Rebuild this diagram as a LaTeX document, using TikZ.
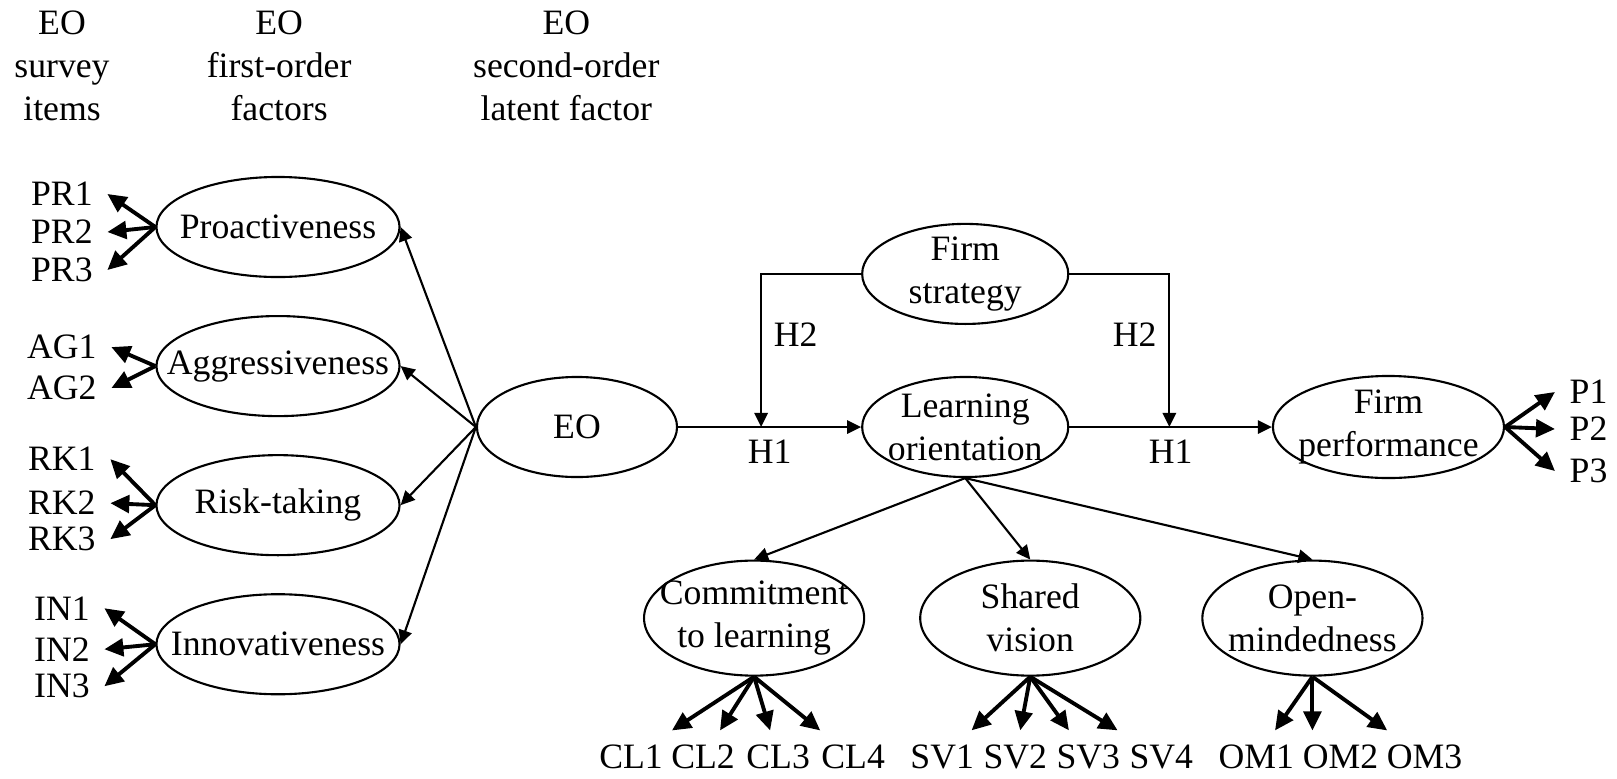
\documentclass[tikz,border=0pt]{standalone}
\usepackage{fontspec}
\setmainfont{Liberation Serif}
\usetikzlibrary{shapes.geometric, arrows.meta}
\tikzstyle{header} = [align=center, inner sep=0pt]
\tikzstyle{latent} = [ellipse, minimum width=2.43cm, minimum height=1cm, inner sep=-2cm, align=center, draw=black, semithick]
\tikzstyle{dimension} = [latent, minimum width=2.2cm, minimum height=1.15cm]
\tikzstyle{item} = [inner sep=4pt]
\tikzstyle{arrow} = [semithick, -{Triangle[length=4pt, width=3.8pt]}]
\tikzstyle{load} = [line width=1.1pt, -{Triangle[length=5.4pt, width=5pt]}]

\begin{document}
\begin{tikzpicture}[x=0.01cm, y=-0.01cm, node distance=1.39cm, font=\fontsize{10.15}{12.2}\selectfont]
\useasboundingbox (0,0) rectangle (1617,778);
% column headers
\node (hitems) [header] at (62,66) {EO\\survey\\items};
\node (hfirst) [header, right of=hitems, xshift=0.78cm] {EO\\first-order\\factors};
\node (hsecond) [header, right of=hfirst, xshift=1.48cm] {EO\\second-order\\latent factor};
% first-order factors
\node (pro) [latent] at (278,227) {Proactiveness};
\node (agg) [latent, below of=pro] {Aggressiveness};
\node (risk) [latent, below of=agg] {Risk-taking};
\node (inn) [latent, below of=risk] {Innovativeness};
% survey items
\node (pr1) [item, left of=pro, xshift=-0.77cm, yshift=0.33cm] {PR1};
\node (pr2) [item, left of=pro, xshift=-0.77cm, yshift=-0.05cm] {PR2};
\node (pr3) [item, left of=pro, xshift=-0.77cm, yshift=-0.43cm] {PR3};
\node (ag1) [item, left of=agg, xshift=-0.77cm, yshift=0.19cm] {AG1};
\node (ag2) [item, left of=agg, xshift=-0.77cm, yshift=-0.22cm] {AG2};
\node (rk1) [item, left of=risk, xshift=-0.77cm, yshift=0.46cm] {RK1};
\node (rk2) [item, left of=risk, xshift=-0.77cm, yshift=0.02cm] {RK2};
\node (rk3) [item, left of=risk, xshift=-0.77cm, yshift=-0.34cm] {RK3};
\node (in1) [item, left of=inn, xshift=-0.77cm, yshift=0.36cm] {IN1};
\node (in2) [item, left of=inn, xshift=-0.77cm, yshift=-0.05cm] {IN2};
\node (in3) [item, left of=inn, xshift=-0.77cm, yshift=-0.42cm] {IN3};
% second-order factor and model
\node (eo) [latent, minimum width=2cm] at (577,427) {EO};
\node (lo) [latent, minimum width=2.06cm, right of=eo, xshift=2.49cm] {Learning\\orientation};
\node (fs) [latent, minimum width=2.06cm, above of=lo, yshift=0.14cm] {Firm\\strategy};
\node (fp) [latent, minimum width=2.31cm, minimum height=1.02cm, right of=lo, xshift=2.84cm] {Firm\\performance};
\coordinate [right of=eo, xshift=0.45cm] (m1);
\coordinate [left of=fp, xshift=-0.80cm] (m2);
% performance items
\node (p1) [item, right of=fp, xshift=0.61cm, yshift=0.35cm] {P1};
\node (p2) [item, right of=fp, xshift=0.61cm, yshift=-0.02cm] {P2};
\node (p3) [item, right of=fp, xshift=0.61cm, yshift=-0.44cm] {P3};
% learning orientation dimensions
\node (cl) [dimension, below of=lo, xshift=-2.11cm, yshift=-0.52cm] {Commitment\\to learning};
\node (sv) [dimension, right of=cl, xshift=1.37cm] {Shared\\vision};
\node (om) [dimension, right of=sv, xshift=1.43cm] {Open-\\mindedness};
\node (cl1) [item, below of=cl, xshift=-1.23cm] {CL1};
\node (cl2) [item, below of=cl, xshift=-0.51cm] {CL2};
\node (cl3) [item, below of=cl, xshift=0.24cm] {CL3};
\node (cl4) [item, below of=cl, xshift=0.99cm] {CL4};
\node (sv1) [item, below of=sv, xshift=-0.88cm] {SV1};
\node (sv2) [item, below of=sv, xshift=-0.15cm] {SV2};
\node (sv3) [item, below of=sv, xshift=0.58cm] {SV3};
\node (sv4) [item, below of=sv, xshift=1.31cm] {SV4};
\node (om1) [item, below of=om, xshift=-0.56cm] {OM1};
\node (om2) [item, below of=om, xshift=0.28cm] {OM2};
\node (om3) [item, below of=om, xshift=1.12cm] {OM3};
% factor loadings
\draw [load] (pro.west) -- (pr1.east);
\draw [load] (pro.west) -- (pr2.east);
\draw [load] (pro.west) -- (pr3.east);
\draw [load] (agg.west) -- (ag1.east);
\draw [load] (agg.west) -- (ag2.east);
\draw [load] (risk.west) -- (rk1.east);
\draw [load] (risk.west) -- (rk2.east);
\draw [load] (risk.west) -- (rk3.east);
\draw [load] (inn.west) -- (in1.east);
\draw [load] (inn.west) -- (in2.east);
\draw [load] (inn.west) -- (in3.east);
\draw [arrow] (eo.west) -- (pro.east);
\draw [arrow] (eo.west) -- (agg.east);
\draw [arrow] (eo.west) -- (risk.east);
\draw [arrow] (eo.west) -- (inn.east);
% hypotheses
\draw [arrow] (eo) -- node[below] {H1} (lo);
\draw [arrow] (lo) -- node[below] {H1} (fp);
\draw [arrow] (fs.west) -| node[right, pos=0.7] {H2} (m1);
\draw [arrow] (fs.east) -| node[left, pos=0.7] {H2} (m2);
\draw [load] (fp.east) -- (p1.west);
\draw [load] (fp.east) -- (p2.west);
\draw [load] (fp.east) -- (p3.west);
\draw [arrow] (lo.south) -- (cl.north);
\draw [arrow] (lo.south) -- (sv.north);
\draw [arrow] (lo.south) -- (om.north);
\draw [load] (cl.south) -- (cl1);
\draw [load] (cl.south) -- (cl2);
\draw [load] (cl.south) -- (cl3);
\draw [load] (cl.south) -- (cl4);
\draw [load] (sv.south) -- (sv1);
\draw [load] (sv.south) -- (sv2);
\draw [load] (sv.south) -- (sv3);
\draw [load] (sv.south) -- (sv4);
\draw [load] (om.south) -- (om1);
\draw [load] (om.south) -- (om.south |- om2.north);
\draw [load] (om.south) -- (om3);
\end{tikzpicture}
\end{document}
